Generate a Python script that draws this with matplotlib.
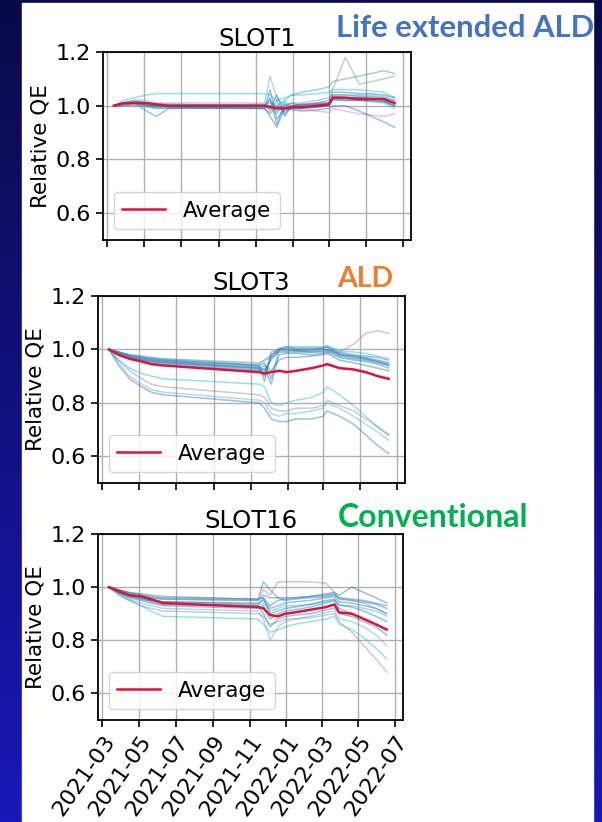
import numpy as np
import pandas as pd
import matplotlib
matplotlib.use('Agg')
import matplotlib.pyplot as plt
import matplotlib.dates as mdates
from matplotlib.colors import LinearSegmentedColormap
from matplotlib.patches import Rectangle

# measurement dates
dates = pd.to_datetime(['2021-03-12', '2021-03-28', '2021-04-15', '2021-05-05', '2021-05-21',
                        '2021-06-10', '2021-11-15', '2021-11-24', '2021-12-05', '2021-12-18',
                        '2021-12-30', '2022-01-15', '2022-02-10', '2022-03-01', '2022-03-07',
                        '2022-03-28', '2022-04-20', '2022-05-10', '2022-05-30', '2022-06-17'])
dates16 = pd.to_datetime(['2021-03-12', '2021-03-28', '2021-04-15', '2021-05-05', '2021-05-21',
                          '2021-06-10', '2021-11-15', '2021-11-24', '2021-12-05', '2021-12-18',
                          '2021-12-30', '2022-01-15', '2022-02-10', '2022-03-08', '2022-03-22',
                          '2022-03-30', '2022-04-20', '2022-05-10', '2022-05-30', '2022-06-17'])
x_range = pd.to_datetime(['2021-02-22', '2022-07-14'])

# SLOT1 - life extended ALD
slot1_avg = [1.00, 1.01, 1.01, 1.01, 1.005, 1.00, 1.00, 0.995, 0.99, 0.99,
             0.995, 0.995, 1.00, 1.005, 1.03, 1.03, 1.025, 1.025, 1.025, 1.01]
slot1_qe = [
    [1.00, 1.01, 1.02, 1.01, 1.00, 1.00, 1.00, 1.02, 0.98, 1.00, 1.01, 1.00, 1.01, 1.01, 1.04, 1.04, 1.035, 1.035, 1.03, 1.02],
    [1.00, 1.00, 1.01, 1.00, 0.99, 0.99, 0.99, 0.97, 1.00, 0.98, 0.99, 0.99, 0.995, 1.00, 1.02, 1.02, 1.02, 1.015, 1.015, 1.00],
    [1.00, 1.01, 1.01, 0.98, 0.96, 0.99, 0.995, 1.03, 0.93, 1.01, 0.99, 0.995, 1.00, 1.005, 1.035, 1.03, 1.03, 1.03, 1.02, 1.01],
    [1.00, 1.01, 1.02, 1.02, 1.01, 1.01, 1.01, 1.11, 1.03, 1.00, 1.00, 1.00, 1.005, 1.01, 1.04, 1.04, 1.04, 1.04, 1.035, 1.02],
    [1.00, 1.02, 1.03, 1.04, 1.045, 1.045, 1.045, 1.04, 1.02, 1.03, 1.04, 1.04, 1.045, 1.05, 1.06, 1.06, 1.06, 1.055, 1.05, 1.03],
    [1.00, 1.00, 1.01, 1.01, 1.00, 1.00, 1.00, 1.00, 0.99, 1.00, 1.01, 1.01, 1.02, 1.03, 1.06, 1.18, 1.08, 1.09, 1.10, 1.11],
    [1.00, 1.00, 1.00, 1.00, 1.00, 1.00, 1.00, 1.01, 1.00, 1.02, 1.04, 1.05, 1.06, 1.07, 1.09, 1.10, 1.11, 1.12, 1.13, 1.12],
    [1.00, 1.00, 1.00, 1.00, 1.00, 1.00, 0.995, 1.00, 0.99, 1.00, 0.99, 0.985, 0.98, 0.975, 0.99, 0.98, 0.97, 0.965, 0.96, 0.97],
    [1.00, 1.005, 1.01, 1.00, 0.995, 0.995, 0.99, 0.96, 0.92, 0.99, 0.985, 0.98, 0.985, 0.99, 1.00, 1.00, 0.98, 0.96, 0.94, 0.92],
    [1.00, 1.01, 1.015, 1.01, 1.005, 1.005, 1.00, 0.99, 1.04, 0.97, 1.00, 1.005, 1.01, 1.02, 1.05, 1.05, 1.045, 1.045, 1.04, 1.03],
    [1.00, 1.005, 1.005, 0.995, 0.99, 0.995, 0.995, 1.00, 0.97, 1.02, 0.995, 1.00, 1.00, 1.00, 1.025, 1.025, 1.02, 1.02, 1.01, 0.99],
    [1.00, 1.01, 1.01, 1.005, 1.00, 1.00, 1.005, 0.98, 1.02, 0.96, 1.00, 1.005, 1.005, 1.01, 1.03, 1.03, 1.03, 1.025, 1.02, 1.00],
    [1.00, 1.005, 1.01, 1.005, 1.00, 0.995, 0.99, 1.06, 0.95, 0.99, 0.99, 0.99, 0.995, 1.00, 1.025, 1.02, 1.02, 1.02, 1.015, 1.00],
]
slot1_colors = ['#1f77b4', '#1f77b4', '#1f77b4', '#5fa8d8', '#17becf', '#8c8c8c',
                '#2ca0a0', '#e377c2', '#1f77b4', '#1f77b4', '#17becf', '#1f77b4', '#1f77b4']

# SLOT3 - ALD
slot3_avg = [1.00, 0.98, 0.965, 0.955, 0.945, 0.94, 0.915, 0.91, 0.915, 0.92,
             0.915, 0.92, 0.93, 0.94, 0.945, 0.93, 0.925, 0.915, 0.90, 0.89]
slot3_qe = [
    [1.00, 0.99, 0.975, 0.965, 0.96, 0.955, 0.935, 0.92, 0.96, 1.00, 1.00, 0.995, 0.995, 1.00, 1.00, 0.985, 0.975, 0.97, 0.96, 0.95],
    [1.00, 0.985, 0.97, 0.96, 0.955, 0.95, 0.925, 0.90, 0.97, 0.99, 0.99, 0.99, 0.99, 0.99, 0.995, 0.975, 0.965, 0.96, 0.95, 0.94],
    [1.00, 0.99, 0.98, 0.97, 0.965, 0.96, 0.94, 0.95, 0.89, 1.00, 1.01, 1.005, 1.005, 1.005, 1.01, 0.99, 0.98, 0.975, 0.97, 0.96],
    [1.00, 0.98, 0.965, 0.955, 0.95, 0.945, 0.92, 0.93, 0.87, 0.98, 0.985, 0.985, 0.98, 0.985, 0.99, 0.97, 0.96, 0.955, 0.945, 0.93],
    [1.00, 0.99, 0.98, 0.975, 0.97, 0.965, 0.945, 0.96, 0.97, 1.005, 1.01, 1.01, 1.01, 1.01, 1.015, 0.995, 0.99, 0.985, 0.975, 0.965],
    [1.00, 0.985, 0.975, 0.965, 0.96, 0.955, 0.93, 0.91, 0.98, 0.995, 0.995, 0.995, 0.99, 0.995, 1.00, 0.98, 0.97, 0.965, 0.955, 0.945],
    [1.00, 0.99, 0.98, 0.975, 0.97, 0.965, 0.95, 0.96, 0.98, 1.00, 1.00, 1.00, 1.00, 1.00, 0.99, 0.99, 1.02, 1.06, 1.07, 1.06],
    [1.00, 0.98, 0.97, 0.96, 0.955, 0.95, 0.93, 0.94, 0.92, 0.96, 0.97, 0.97, 0.975, 0.98, 0.985, 0.96, 0.95, 0.94, 0.93, 0.92],
    [1.00, 0.99, 0.975, 0.97, 0.965, 0.96, 0.94, 0.88, 0.99, 1.00, 1.005, 1.00, 1.00, 1.005, 1.01, 0.98, 0.975, 0.965, 0.955, 0.94],
    [1.00, 0.95, 0.90, 0.87, 0.85, 0.84, 0.81, 0.80, 0.76, 0.75, 0.76, 0.76, 0.77, 0.78, 0.80, 0.78, 0.75, 0.72, 0.69, 0.66],
    [1.00, 0.96, 0.92, 0.89, 0.87, 0.86, 0.83, 0.82, 0.78, 0.77, 0.77, 0.78, 0.78, 0.79, 0.81, 0.79, 0.77, 0.74, 0.71, 0.68],
    [1.00, 0.94, 0.89, 0.86, 0.84, 0.83, 0.80, 0.78, 0.74, 0.73, 0.73, 0.74, 0.74, 0.75, 0.77, 0.75, 0.72, 0.68, 0.64, 0.61],
    [1.00, 0.96, 0.93, 0.91, 0.90, 0.89, 0.87, 0.86, 0.80, 0.79, 0.80, 0.81, 0.82, 0.84, 0.86, 0.83, 0.79, 0.75, 0.71, 0.68],
]
slot3_colors = ['#1f77b4', '#1f77b4', '#1f77b4', '#1f77b4', '#17becf', '#1f77b4',
                '#8c8c8c', '#1f77b4', '#1f77b4', '#5fa8d8', '#8c8c8c', '#1f77b4', '#17becf']

# SLOT16 - conventional
slot16_avg = [1.00, 0.985, 0.97, 0.965, 0.955, 0.94, 0.925, 0.92, 0.895, 0.89,
              0.90, 0.905, 0.915, 0.925, 0.935, 0.905, 0.90, 0.88, 0.86, 0.84]
slot16_qe = [
    [1.00, 0.985, 0.97, 0.96, 0.95, 0.945, 0.94, 0.95, 0.92, 0.93, 0.94, 0.945, 0.95, 0.96, 0.965, 0.945, 0.94, 0.93, 0.92, 0.90],
    [1.00, 0.99, 0.975, 0.97, 0.96, 0.955, 0.95, 0.97, 0.96, 0.96, 0.96, 0.96, 0.965, 0.97, 0.975, 0.955, 0.95, 0.945, 0.935, 0.92],
    [1.00, 0.98, 0.965, 0.955, 0.945, 0.935, 0.93, 0.90, 0.85, 0.88, 0.89, 0.895, 0.90, 0.915, 0.92, 0.90, 0.89, 0.87, 0.85, 0.82],
    [1.00, 0.975, 0.955, 0.94, 0.93, 0.92, 0.91, 0.88, 0.80, 0.85, 0.87, 0.88, 0.89, 0.905, 0.91, 0.88, 0.87, 0.85, 0.82, 0.78],
    [1.00, 0.99, 0.98, 0.975, 0.97, 0.965, 0.955, 1.02, 0.99, 0.96, 0.95, 0.955, 0.96, 0.965, 0.97, 0.96, 0.955, 0.95, 0.94, 0.93],
    [1.00, 0.97, 0.95, 0.93, 0.91, 0.89, 0.88, 0.86, 0.83, 0.84, 0.85, 0.86, 0.87, 0.88, 0.89, 0.86, 0.84, 0.81, 0.77, 0.73],
    [1.00, 0.98, 0.96, 0.95, 0.94, 0.93, 0.92, 0.93, 0.88, 0.90, 0.91, 0.915, 0.925, 0.94, 0.95, 0.92, 0.90, 0.88, 0.86, 0.84],
    [1.00, 0.975, 0.95, 0.93, 0.92, 0.91, 0.90, 0.89, 0.86, 0.87, 0.88, 0.88, 0.885, 0.895, 0.90, 0.87, 0.83, 0.78, 0.73, 0.68],
    [1.00, 0.985, 0.965, 0.955, 0.95, 0.94, 0.93, 0.94, 0.91, 0.92, 0.93, 0.93, 0.935, 0.945, 0.95, 0.93, 0.93, 0.92, 0.91, 0.89],
    [1.00, 0.99, 0.98, 0.97, 0.965, 0.96, 0.955, 0.96, 0.93, 0.95, 0.955, 0.96, 0.965, 0.975, 0.98, 0.97, 1.00, 0.98, 0.96, 0.94],
    [1.00, 0.99, 0.975, 0.965, 0.96, 0.955, 0.95, 0.99, 0.97, 1.02, 1.02, 1.02, 1.02, 1.015, 0.98, 0.96, 0.95, 0.94, 0.92, 0.90],
    [1.00, 0.98, 0.965, 0.96, 0.95, 0.945, 0.935, 0.96, 0.90, 0.91, 0.92, 0.925, 0.935, 0.95, 0.955, 0.935, 0.925, 0.91, 0.89, 0.87],
]
slot16_colors = ['#1f77b4', '#1f77b4', '#1f77b4', '#5fa8d8', '#1f77b4', '#17becf',
                 '#1f77b4', '#8c8c8c', '#17becf', '#1f77b4', '#8c8c8c', '#1f77b4']

titles = ['SLOT1', 'SLOT3', 'SLOT16']
tags = ['Life extended ALD', 'ALD', 'Conventional']
tag_colors = ['#4472C4', '#ED7D31', '#00B050']

W, H = 602, 822
fig = plt.figure(figsize=(W / 100, H / 100), dpi=100)

# slide background: dark blue gradient with a white panel on it
bg = fig.add_axes([0, 0, 1, 1], zorder=-10)
grad = np.linspace(0, 1, 256).reshape(-1, 1)
bg.imshow(grad, aspect='auto', extent=[0, 1, 0, 1], origin='upper',
          cmap=LinearSegmentedColormap.from_list('bg', ['#0a0a48', '#1818b8']))
bg.add_patch(Rectangle((22 / W, 0), (593 - 22) / W, (H - 3) / H, color='white'))
bg.set_xlim(0, 1)
bg.set_ylim(0, 1)
bg.axis('off')

# axes boxes in pixels: left, top, right, bottom
boxes = [(103, 52, 411, 240), (98, 296, 405, 483), (98, 534, 403, 720)]
all_dates = [dates, dates, dates16]
all_qe = [slot1_qe, slot3_qe, slot16_qe]
all_avg = [slot1_avg, slot3_avg, slot16_avg]
all_colors = [slot1_colors, slot3_colors, slot16_colors]

for i, (l, t, r, b) in enumerate(boxes):
    ax = fig.add_axes([l / W, 1 - b / H, (r - l) / W, (b - t) / H])
    for vals, c in zip(all_qe[i], all_colors[i]):
        ax.plot(all_dates[i], vals, color=c, lw=1.1, alpha=0.45)
    ax.plot(all_dates[i], all_avg[i], color='crimson', lw=1.8, label='Average')

    ax.set_xlim(x_range[0], x_range[1])
    ax.set_ylim(0.5, 1.2)
    ax.set_yticks([0.6, 0.8, 1.0, 1.2])
    ax.xaxis.set_major_locator(mdates.MonthLocator(bymonth=[1, 3, 5, 7, 9, 11]))
    ax.xaxis.set_major_formatter(mdates.DateFormatter('%Y-%m'))
    ax.grid(True, color='#b0b0b0', lw=1.0)
    ax.set_axisbelow(True)
    for s in ax.spines.values():
        s.set_linewidth(1.3)
    ax.tick_params(labelsize=16, length=5, width=1.2)
    ax.set_ylabel('Relative QE', fontsize=15.5)
    ax.set_title(titles[i], fontsize=17.5, pad=4)
    ax.legend(loc='lower left', fontsize=15.5, handlelength=2.0)
    if i < 2:
        ax.tick_params(labelbottom=False)
    else:
        plt.setp(ax.get_xticklabels(), rotation=55, ha='right', rotation_mode='anchor')

fig.text(336 / W, 1 - 37 / H, tags[0], color=tag_colors[0], fontsize=22.3,
         fontweight='bold', family='Lato', va='baseline')
fig.text(337 / W, 1 - 287 / H, tags[1], color=tag_colors[1], fontsize=20.5,
         fontweight='bold', family='Lato', va='baseline')
fig.text(338 / W, 1 - 527 / H, tags[2], color=tag_colors[2], fontsize=23,
         fontweight='bold', family='Lato', va='baseline')

fig.savefig('out.png', dpi=100)
